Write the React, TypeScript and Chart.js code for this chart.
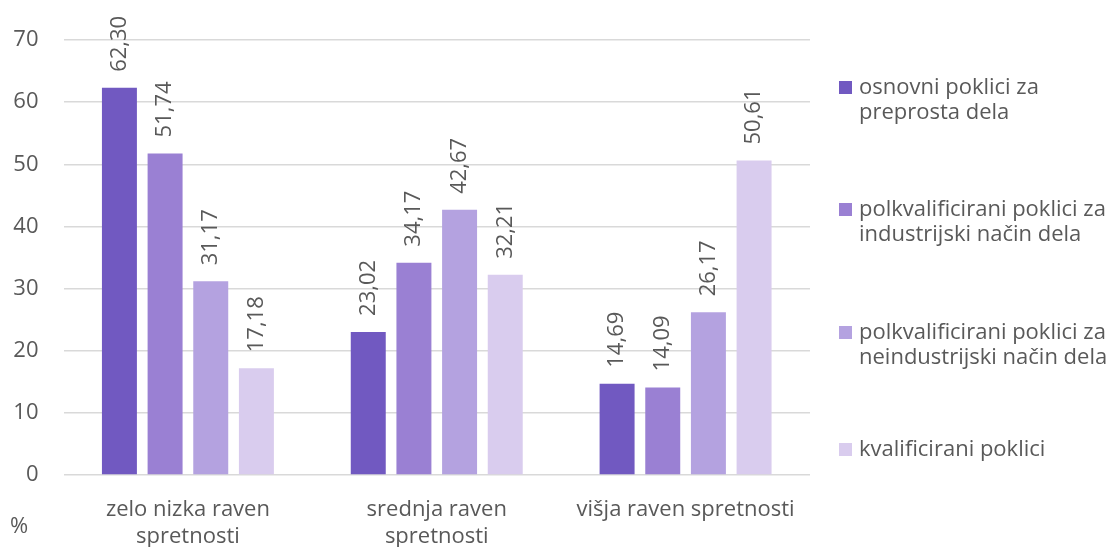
import React, { useEffect, useRef } from "react";
import { Chart, registerables } from "chart.js";

Chart.register(...registerables);

const categories: (string | string[])[] = [
  ["zelo nizka raven", "spretnosti"],
  ["srednja raven", "spretnosti"],
  "višja raven spretnosti",
];
const seriesNames: string[][] = [
  ["osnovni poklici za", "preprosta dela"],
  ["polkvalificirani poklici za", "industrijski način dela"],
  ["polkvalificirani poklici za", "neindustrijski način dela"],
  ["kvalificirani poklici"],
];
const osnovni = [62.3, 23.02, 14.69];
const polkvalInd = [51.74, 34.17, 14.09];
const polkvalNeind = [31.17, 42.67, 26.17];
const kvalificirani = [17.18, 32.21, 50.61];
const colors = ["#7159C1", "#9A80D3", "#B4A2E0", "#D9CCEE"];
const yTicks = { min: 0, max: 70, step: 10 };
const unitLabel = "%";

const FONT = "'Open Sans', 'Noto Sans', sans-serif";
const TEXT = "#595959";
const FS = 22;

const fmt = (v: number) => v.toFixed(2).replace(".", ",");

const overlayPlugin = {
  id: "overlay",
  afterDatasetsDraw(chart: any) {
    const ctx = chart.ctx;
    ctx.save();
    ctx.fillStyle = TEXT;
    ctx.font = `${FS}px ${FONT}`;
    // data labels
    chart.data.datasets.forEach((ds: any, di: number) => {
      const meta = chart.getDatasetMeta(di);
      meta.data.forEach((bar: any, i: number) => {
        ctx.save();
        ctx.translate(bar.x, bar.y - 16);
        ctx.rotate(-Math.PI / 2);
        ctx.textAlign = "left";
        ctx.textBaseline = "middle";
        ctx.fillText(fmt(ds.data[i]), 0, 0);
        ctx.restore();
      });
    });
    // unit label
    ctx.textAlign = "left";
    ctx.textBaseline = "middle";
    ctx.fillText(unitLabel, 10, 527);
    // legend
    const tops = [88, 210, 333, 450];
    seriesNames.forEach((lines, i) => {
      ctx.fillStyle = colors[i];
      ctx.fillRect(839, tops[i] - 7, 13, 13);
      ctx.fillStyle = TEXT;
      lines.forEach((l, j) => {
        ctx.fillText(l, 859, tops[i] + j * 25);
      });
    });
    ctx.restore();
  },
};

export default function App() {
  const ref = useRef<HTMLCanvasElement>(null);
  useEffect(() => {
    const data = [osnovni, polkvalInd, polkvalNeind, kvalificirani];
    const chart = new Chart(ref.current!, {
      type: "bar",
      data: {
        labels: categories as any,
        datasets: data.map((d, i) => ({
          label: seriesNames[i].join(" "),
          data: d,
          backgroundColor: colors[i],
          borderWidth: 0,
          categoryPercentage: 0.734,
          barPercentage: 0.766,
        })),
      },
      options: {
        animation: false,
        responsive: false,
        maintainAspectRatio: false,
        layout: { padding: { top: 40, right: 308, bottom: 0, left: 0 } },
        plugins: {
          legend: { display: false },
          tooltip: { enabled: false },
        },
        scales: {
          x: {
            grid: { display: false, drawTicks: false },
            border: { display: false },
            ticks: {
              color: TEXT,
              font: { family: FONT, size: FS, lineHeight: 1.2 },
              padding: 22,
              maxRotation: 0,
              autoSkip: false,
            },
            afterFit: (s: any) => {
              s.height = 72;
            },
          },
          y: {
            min: yTicks.min,
            max: yTicks.max,
            ticks: {
              stepSize: yTicks.step,
              color: TEXT,
              font: { family: FONT, size: FS },
              padding: 25,
            },
            grid: { color: "#D9D9D9", lineWidth: 1.5, drawTicks: false },
            border: { display: false },
            afterFit: (s: any) => {
              s.width = 63.5;
            },
          },
        },
      },
      plugins: [overlayPlugin],
    });
    return () => chart.destroy();
  }, []);
  return (
    <div style={{ position: "absolute", left: 0, top: 0, width: 1118, height: 547, background: "#fff" }}>
      <canvas ref={ref} width={1118} height={547} style={{ width: 1118, height: 547 }} />
    </div>
  );
}
